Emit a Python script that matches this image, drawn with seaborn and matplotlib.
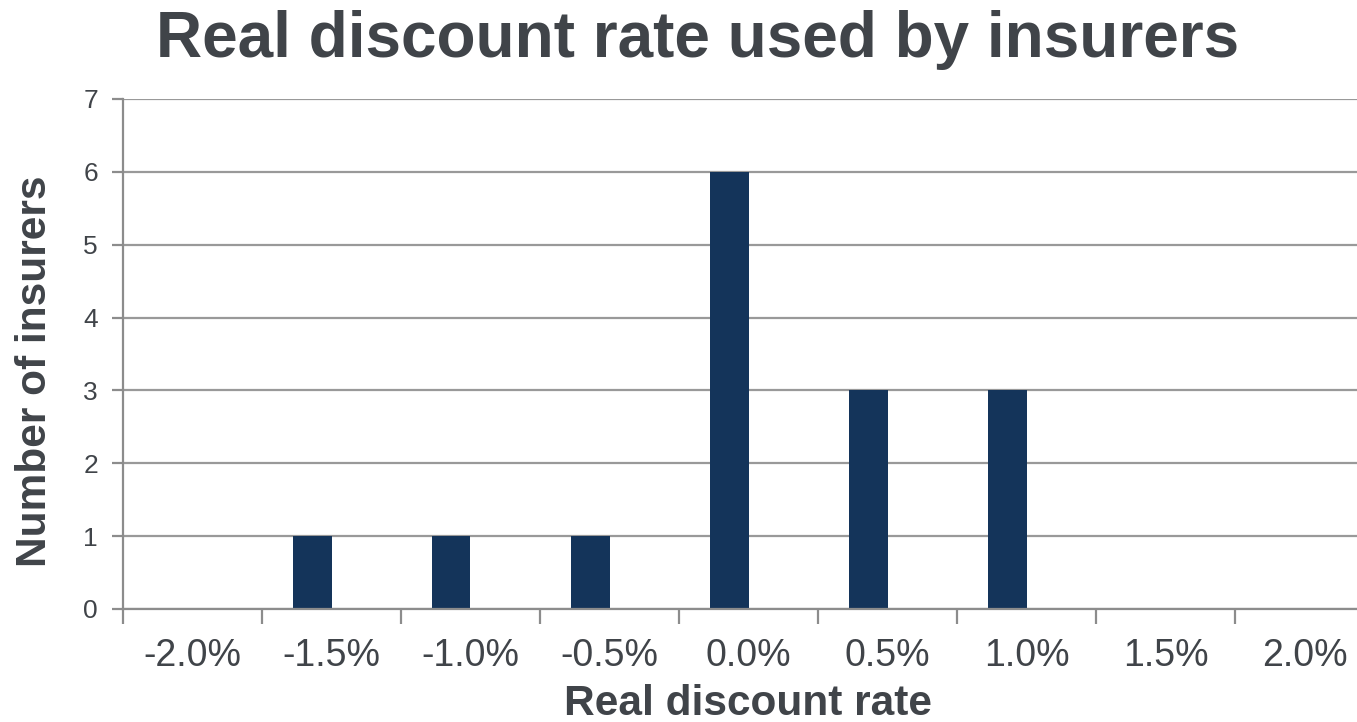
import matplotlib
matplotlib.use("Agg")
import matplotlib.pyplot as plt
import seaborn as sns
import pandas as pd
import numpy as np

categories = ["-2.0%", "-1.5%", "-1.0%", "-0.5%", "0.0%", "0.5%", "1.0%", "1.5%", "2.0%"]
insurers = [0, 1, 1, 1, 6, 3, 3, 0, 0]
empty_series = [0, 0, 0, 0, 0, 0, 0, 0, 0]

df = pd.DataFrame({
    "rate": categories * 2,
    "count": insurers + empty_series,
    "series": ["Insurers"] * len(categories) + ["Blank"] * len(categories),
})

sns.set_theme(style="white")
plt.rcParams["font.family"] = ["Liberation Sans", "DejaVu Sans"]

text_color = "#404449"
grid_color = "#999999"
bar_color = "#14345a"

fig = plt.figure(figsize=(13.57, 7.22), dpi=100)
ax = fig.add_axes([123 / 1357, 1 - 609 / 722, (1374 - 123) / 1357, (609 - 99) / 722])

sns.barplot(data=df, x="rate", y="count", hue="series", order=categories,
            hue_order=["Insurers", "Blank"], palette=[bar_color, bar_color],
            width=0.56, linewidth=0, dodge=True, legend=False, saturation=1, ax=ax)

ax.set_ylim(0, 7)
ax.set_xlim(-0.5, len(categories) - 0.5)
ax.set_yticks(range(0, 8))
ax.yaxis.grid(True, color=grid_color, linewidth=1.6)
ax.set_axisbelow(True)

for s in ["top", "right"]:
    ax.spines[s].set_visible(False)
ax.spines["left"].set_color("#8c8c8c")
ax.spines["left"].set_linewidth(1.6)
ax.spines["bottom"].set_color("#8c8c8c")
ax.spines["bottom"].set_linewidth(1.6)

# category boundary tick marks on x
ax.set_xticks(np.arange(len(categories)))
ax.set_xticklabels(categories)
ax.set_xticks(np.arange(len(categories)) - 0.5, minor=True)
ax.tick_params(axis="x", which="major", length=0, pad=21, labelsize=27, labelcolor=text_color)
ax.tick_params(axis="x", which="minor", length=11, width=1.6, color="#8c8c8c", bottom=True)
ax.tick_params(axis="y", which="major", length=8, width=1.6, color="#8c8c8c", left=True,
               pad=10, labelsize=19, labelcolor=text_color)

ax.set_xlabel("Real discount rate", fontsize=30.5, fontweight="bold", color=text_color)
ax.xaxis.label.set_va("center")
ax.xaxis.set_label_coords(0.5, (609 - 704) / 510)
ax.set_ylabel("Number of insurers", fontsize=30.5, fontweight="bold", color=text_color)
ax.yaxis.label.set_va("center")
ax.yaxis.set_label_coords((35 - 123) / 1251, (609 - 371.5) / 510)

fig.text(698 / 1357, 1 - 40 / 722, "Real discount rate used by insurers", ha="center", va="center",
         fontsize=46, fontweight="bold", color=text_color)

fig.savefig("out.png", dpi=100)
